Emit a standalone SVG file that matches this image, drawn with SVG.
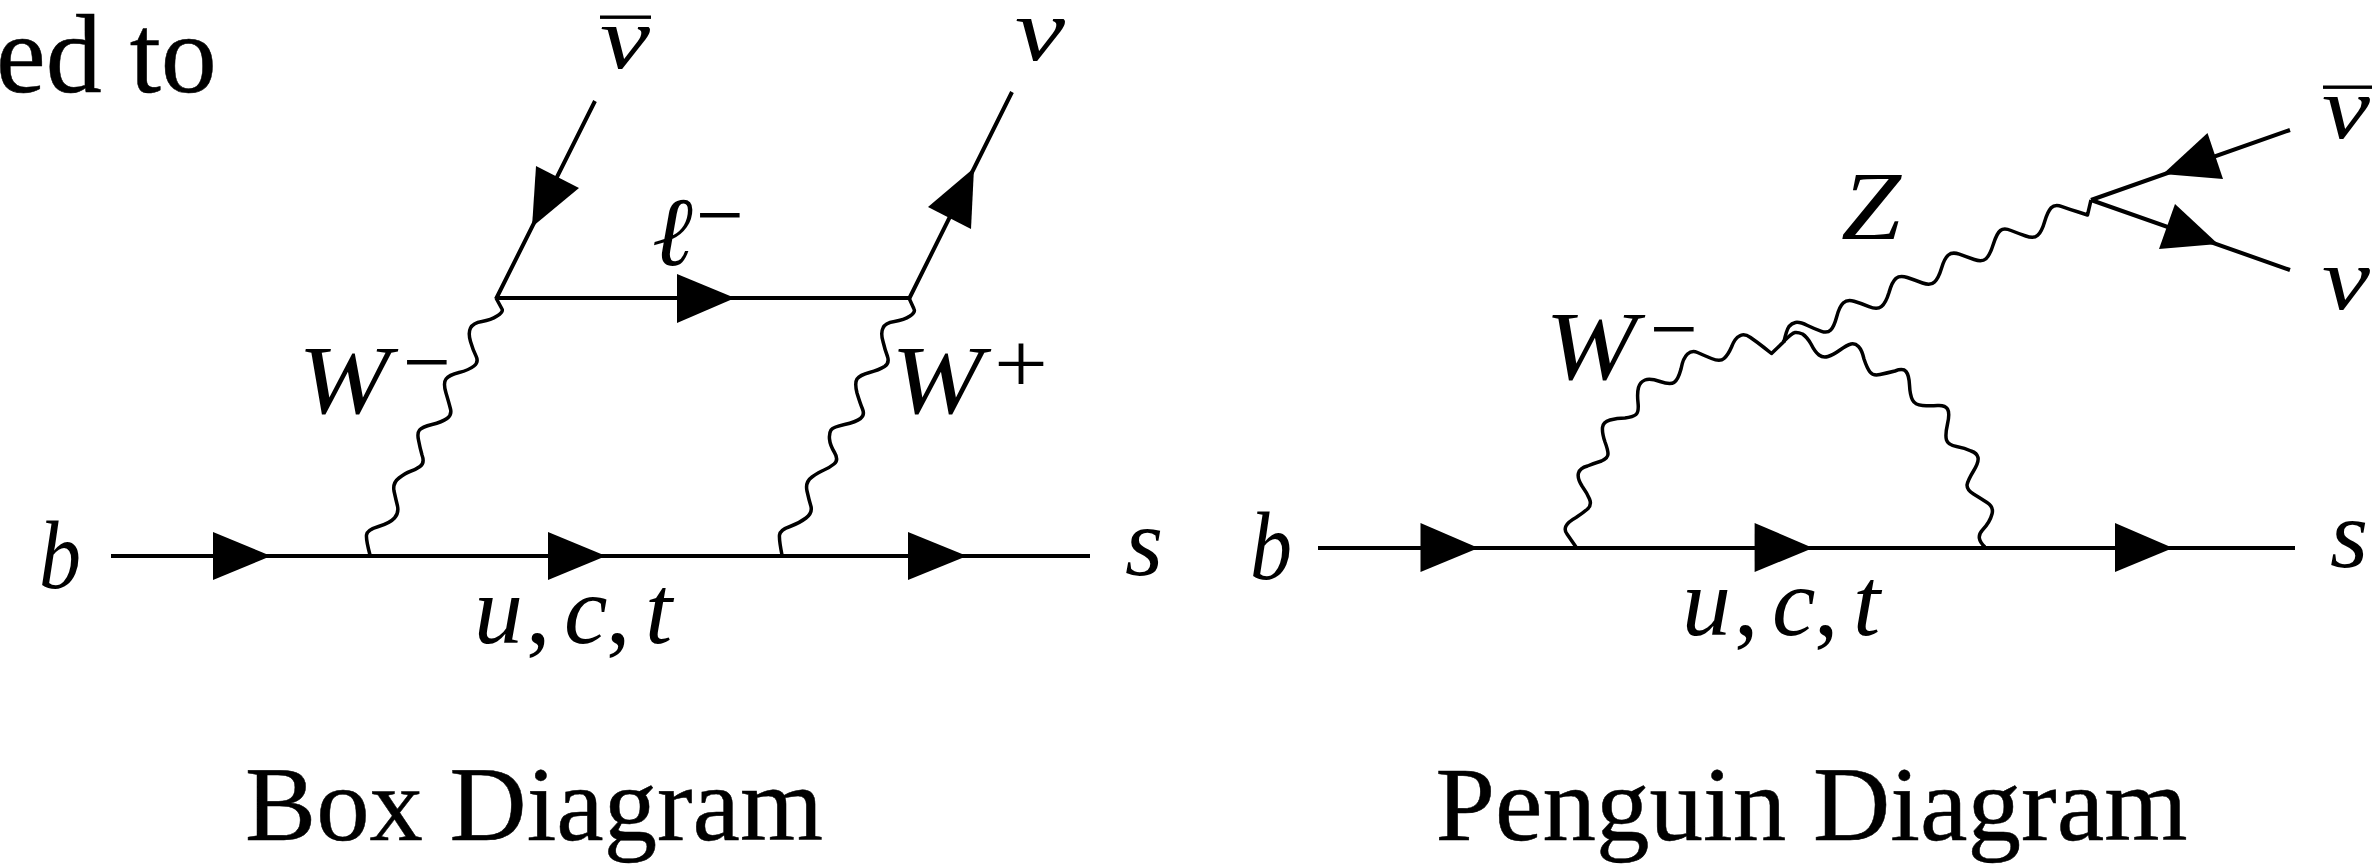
<svg xmlns="http://www.w3.org/2000/svg" width="2372" height="865" viewBox="0 0 2372 865">
<style>
.t{font-family:"Liberation Serif",serif;fill:#000}
.cap{font-size:106px;stroke:#000;stroke-width:.5}
.i{font-style:italic}
.m{font-size:98px}
.n{font-size:88px;font-style:italic}
.s{font-size:86px}
.l{fill:none;stroke:#000;stroke-width:4}
.w{fill:none;stroke:#000;stroke-width:3.5;stroke-linejoin:round}
polygon{fill:#000}
</style>
<rect width="2372" height="865" fill="#fff"/>
<g id="connectors">
<g id="box-lines">
<path class="l" d="M111,556H1090M496,298H909M496,299L595,101M909,299L1012,92"/>
<polygon points="213,532 271,556 213,580"/>
<polygon points="548,532 606,556 548,580"/>
<polygon points="908,532 967,556 908,580"/>
<polygon points="677,274 735,298 677,323"/>
<polygon points="536,166 579,188 532,227"/>
<polygon points="974,168 928,207 971,229"/>
</g>
<path id="box-w-left" class="w" d="M496,298 L502,309 Q503.6,312 497,316 Q491,320 482,321.5 Q473,323 470.5,328 Q468,333 470.5,341.5 Q473,350 476,356 Q479,362 474,366 Q469,370 459,372.5 Q449,375 446,379 Q443,383 446,393 Q449,403 450.5,409 Q452,415 447,418.5 Q442,422 432,424.5 Q422,427 419.5,430 Q417,433 418.5,440 Q420,448 422,455 Q425,463 420,466.5 Q415,470 410,471.5 Q405.5,473 399,478 Q392.5,483 394,491 Q396,500 397.5,506 Q399,513 394.5,518 Q390,523 378.5,526.5 Q367,530 366.5,535 Q366,540 370,555"/>
<path id="box-w-right" class="w" d="M909,298 L914,309 Q915.7,312 910,316 Q904,320 894.5,321.5 Q885,323 883,328 Q880.5,333 883,341.5 Q885,350 887.5,356.5 Q889.7,363 884.5,366.5 Q879,370 869.5,372.5 Q860,375 857,379 Q854.5,383 857,393 Q860,403 862.5,409 Q865,415 860.5,418.5 Q856,422 844.5,424.5 Q833,427 831,430 Q829,433 829.5,439 Q830,445 834.5,452.5 Q839,460 834,464 Q829,468 824,470 Q819,472 812,477 Q805,482 807,491 Q809,500 811,506.5 Q812.5,513 806,518 Q799.5,523 790,526.5 Q780,530 779.5,535 Q779,540 782,555"/>
<g id="penguin-lines">
<path class="l" d="M1318,548H2295M2091,200L2290,130M2091,200L2290,270"/>
<polygon points="1420.5,523 1478.5,548 1420.5,572"/>
<polygon points="1754.6,523 1813,548 1754.6,572"/>
<polygon points="2115,523 2173,548 2115,572"/>
<polygon points="2207.5,133 2223,179 2163,174"/>
<polygon points="2175,204 2159,249 2218,244"/>
</g>
<path id="penguin-w-a" class="w" d="M1576,547 Q1570,538.3 1567,534 Q1564,530 1566,526 Q1568,522 1576,517.5 Q1583,513 1587.5,509 Q1592,505 1589.5,499 Q1587,493 1582,486 Q1577,478 1578.5,473 Q1580,468 1587.5,466 Q1595,463 1601.5,461 Q1608,458 1608,454 Q1608,450 1605,442 Q1602,433 1602.5,427.5 Q1603,422 1610,420 Q1617,418 1625,418 Q1633,417 1636,414.5 Q1639,412 1638,402.5 Q1637,393 1638.5,387.5 Q1640,382 1645,380 Q1650,378 1660,381.5 Q1670,385 1674,382.5 Q1678,380 1681,369 Q1683,358 1687.5,354 Q1692,350 1697.5,352.5 Q1703,355 1711.5,358.5 Q1720,362 1724,358.5 Q1728,355 1731.5,347 Q1735,338 1739.5,336 Q1744,333 1750.5,337.5 Q1757,342 1764,347.5 L1771.5,353.5 L1783.5,342"/>
<path id="penguin-w-b" class="w" d="M1783,342 Q1792,333 1795,332.5 Q1798,332 1802.5,334 Q1807,337 1811,344 Q1815,352 1819,355 Q1823,358 1828,356.5 Q1833,355 1840,350 Q1847,345 1851,344 Q1855,343 1858.5,346.5 Q1862,350 1864,359 Q1867,368 1870,372 Q1873,376 1880,374.5 Q1887,373 1895,371 Q1903,368 1906,371.5 Q1909,375 1909.5,385 Q1910,395 1912.5,400 Q1915,405 1922.5,405.5 Q1930,406 1937.5,405.5 Q1945,405 1947.5,409 Q1950,413 1947.5,424 Q1945,435 1946.5,440 Q1948,445 1956.5,446.5 Q1965,448 1971,451 Q1977,453 1978,457.5 Q1979,462 1973.5,471 Q1968,480 1967,485 Q1967,490 1973.5,494 Q1980,498 1987,502.5 Q1994,507 1992,514 Q1990,522 1982.5,530 Q1975,538 1985,547"/>
<path id="penguin-z" class="w" d="M1783.7,342.7 Q1786.5,330 1789,326.5 Q1791.7,323.3 1795.5,322.5 Q1799.6,321.7 1807.5,325.5 Q1815.5,329.3 1821.5,331.3 Q1827.4,333.3 1830.7,330 Q1834,326.7 1836.7,316.7 Q1839.3,306.7 1843.2,303 Q1847.2,299.3 1854,301.3 Q1861,303.3 1869,306.7 Q1877,310 1881.3,306.7 Q1885.7,303.3 1889,292.5 Q1892,281.7 1896,278.3 Q1900,275 1907.3,277.5 Q1914.7,280 1922.6,283 Q1930.6,286 1934.5,282 Q1938.5,278.3 1941.5,268.3 Q1944.4,258.3 1948.4,255 Q1952.4,251.7 1959.3,254.2 Q1966.3,256.7 1974.2,259.5 Q1982,262.3 1986,258.7 Q1990,255 1993.4,244 Q1996.8,233.3 2000.4,230.5 Q2004,227.7 2011,230.5 Q2018,233.3 2025.8,236 Q2033.7,239 2037.7,235.3 Q2041.7,231.7 2044.6,221.7 Q2047.6,211.7 2051.2,207.8 Q2054.8,204 2062,206.6 Q2069.4,209.3 2078.3,212 L2087.5,215 L2091,200"/>
</g>
<g id="caption-fragment"><text class="t" x="-4" y="92" font-size="112" stroke="#000" stroke-width=".5">ed to</text></g>
<g id="box-diagram-caption"><text class="t cap" x="245" y="840" textLength="578" lengthAdjust="spacingAndGlyphs">Box Diagram</text></g>
<g id="penguin-diagram-caption"><text class="t cap" x="1435.5" y="840" textLength="752" lengthAdjust="spacingAndGlyphs">Penguin Diagram</text></g>
<g id="box-antinu"><text class="t n" x="600" y="68" textLength="50" lengthAdjust="spacingAndGlyphs">ν</text><rect x="600" y="15.5" width="51" height="3.4"/></g>
<g id="box-nu"><text class="t n" x="1015" y="60" textLength="50" lengthAdjust="spacingAndGlyphs">ν</text></g>
<g id="box-lepton"><text class="t i m" x="652" y="265">ℓ</text><text class="t s" x="696" y="244" textLength="48" lengthAdjust="spacingAndGlyphs">−</text></g>
<g id="box-wm"><text class="t i m" x="298" y="413" textLength="92" lengthAdjust="spacingAndGlyphs">W</text><text class="t s" x="403" y="391" textLength="48" lengthAdjust="spacingAndGlyphs">−</text></g>
<g id="box-wp"><text class="t i m" x="891" y="413" textLength="92" lengthAdjust="spacingAndGlyphs">W</text><text class="t s" x="994" y="393" textLength="54" lengthAdjust="spacingAndGlyphs">+</text></g>
<g id="box-b"><text class="t i m" x="39" y="588" textLength="42" lengthAdjust="spacingAndGlyphs">b</text></g>
<g id="box-s"><text class="t i m" x="1125" y="575">s</text></g>
<g id="box-uct"><text class="t i m" y="643"><tspan x="474">u</tspan><tspan x="526" font-style="normal">,</tspan><tspan x="564">c</tspan><tspan x="606" font-style="normal">,</tspan><tspan x="645">t</tspan></text></g>
<g id="penguin-wm"><text class="t i m" x="1545" y="379" textLength="92" lengthAdjust="spacingAndGlyphs">W</text><text class="t s" x="1650" y="358" textLength="48" lengthAdjust="spacingAndGlyphs">−</text></g>
<g id="penguin-z-label"><text class="t i m" x="1841" y="239" textLength="60" lengthAdjust="spacingAndGlyphs">Z</text></g>
<g id="penguin-antinu"><text class="t n" x="2322" y="138" textLength="48" lengthAdjust="spacingAndGlyphs">ν</text><rect x="2323" y="85.5" width="49" height="3.4"/></g>
<g id="penguin-nu"><text class="t n" x="2322" y="309" textLength="48" lengthAdjust="spacingAndGlyphs">ν</text></g>
<g id="penguin-b"><text class="t i m" x="1250" y="579" textLength="42" lengthAdjust="spacingAndGlyphs">b</text></g>
<g id="penguin-s"><text class="t i m" x="2330" y="567">s</text></g>
<g id="penguin-uct"><text class="t i m" y="635"><tspan x="1682">u</tspan><tspan x="1734" font-style="normal">,</tspan><tspan x="1772">c</tspan><tspan x="1814" font-style="normal">,</tspan><tspan x="1853">t</tspan></text></g>
</svg>
